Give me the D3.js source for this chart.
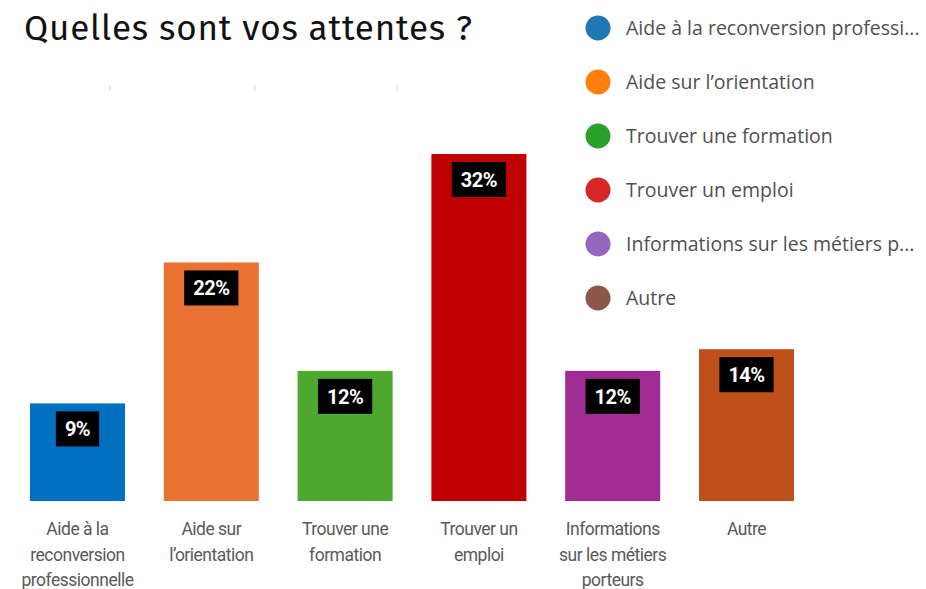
<!DOCTYPE html>
<html><head><meta charset="utf-8">
<script src="https://cdn.jsdelivr.net/npm/d3@7"></script>
<style>
html,body{margin:0;padding:0;background:#fff;}
svg{display:block;}
</style></head>
<body>
<svg id="chart" width="926" height="589"></svg>
<script>
const categories = ["Aide à la reconversion professionnelle","Aide sur l’orientation","Trouver une formation","Trouver un emploi","Informations sur les métiers porteurs","Autre"];
const values = [9, 22, 12, 32, 12, 14];
const tickLabels = [["Aide à la","reconversion","professionnelle"],["Aide sur","l’orientation"],["Trouver une","formation"],["Trouver un","emploi"],["Informations","sur les métiers","porteurs"],["Autre"]];
const legendLabels = ["Aide à la reconversion professi...","Aide sur l’orientation","Trouver une formation","Trouver un emploi","Informations sur les métiers p...","Autre"];
const barColors = ["#0070C0","#E97132","#4EA72E","#C00000","#A02B93","#C0501A"];
const legendColors = ["#1f77b4","#ff7f0e","#2ca02c","#d62728","#9467bd","#8c564b"];
const title = "Quelles sont vos attentes ?";

const svg = d3.select("#chart");
const narrow = "'Liberation Sans Narrow','Arial Narrow','Roboto',sans-serif";

svg.append("text").attr("x",24).attr("y",40)
  .attr("font-family","'Fira Sans','Open Sans','Noto Sans',sans-serif")
  .attr("font-size",35).attr("letter-spacing",0.8).attr("fill","#111").text(title);

const x = d3.scaleBand().domain(categories).range([10.6, 813.4]).paddingInner(0.29).paddingOuter(0.145);
const y = d3.scaleLinear().domain([0, 32]).range([501, 154]);

// faint marks
svg.append("g").selectAll("line").data([110,255,397]).join("line")
  .attr("x1",d=>d).attr("x2",d=>d).attr("y1",85).attr("y2",91)
  .attr("stroke","#e6e6e6").attr("stroke-width",1.5);

const g = svg.append("g");
g.selectAll("rect.bar").data(categories).join("rect").attr("class","bar")
  .attr("x",d=>x(d)).attr("width",x.bandwidth())
  .attr("y",(d,i)=>y(values[i])).attr("height",(d,i)=>y(0)-y(values[i]))
  .attr("fill",(d,i)=>barColors[i]);

const lab = g.selectAll("g.lab").data(categories).join("g").attr("class","lab")
  .attr("transform",(d,i)=>`translate(${x(d)+x.bandwidth()/2},${y(values[i])+8})`);
lab.each(function(d,i){
  const sel = d3.select(this);
  const t = sel.append("text").attr("text-anchor","middle").attr("y",25)
    .attr("font-family",narrow).attr("font-weight","bold").attr("font-size",20)
    .attr("letter-spacing",-0.5)
    .attr("fill","#fff").text(values[i]+"%");
  const w = t.node().getComputedTextLength();
  sel.insert("rect","text").attr("x",-w/2-9).attr("width",w+18).attr("y",0).attr("height",35).attr("fill","#000");
});

// axis labels
const ax = svg.append("g");
categories.forEach((c,i)=>{
  const t = ax.append("text").attr("text-anchor","middle")
    .attr("font-family",narrow).attr("font-size",17.5).attr("letter-spacing",-0.5).attr("fill","#595959");
  tickLabels[i].forEach((ln,j)=>{
    t.append("tspan").attr("x",x(c)+x.bandwidth()/2).attr("y",535+j*25.5).text(ln);
  });
});

// legend
const lg = svg.append("g");
legendLabels.forEach((l,i)=>{
  const cy = 28 + i*54;
  lg.append("circle").attr("cx",598).attr("cy",cy).attr("r",12.5).attr("fill",legendColors[i]);
  lg.append("text").attr("x",626).attr("y",cy+7)
    .attr("font-family","'Open Sans','Noto Sans',sans-serif").attr("font-size",19.5)
    .attr("fill","#505050").text(l);
});
</script>
</body></html>
